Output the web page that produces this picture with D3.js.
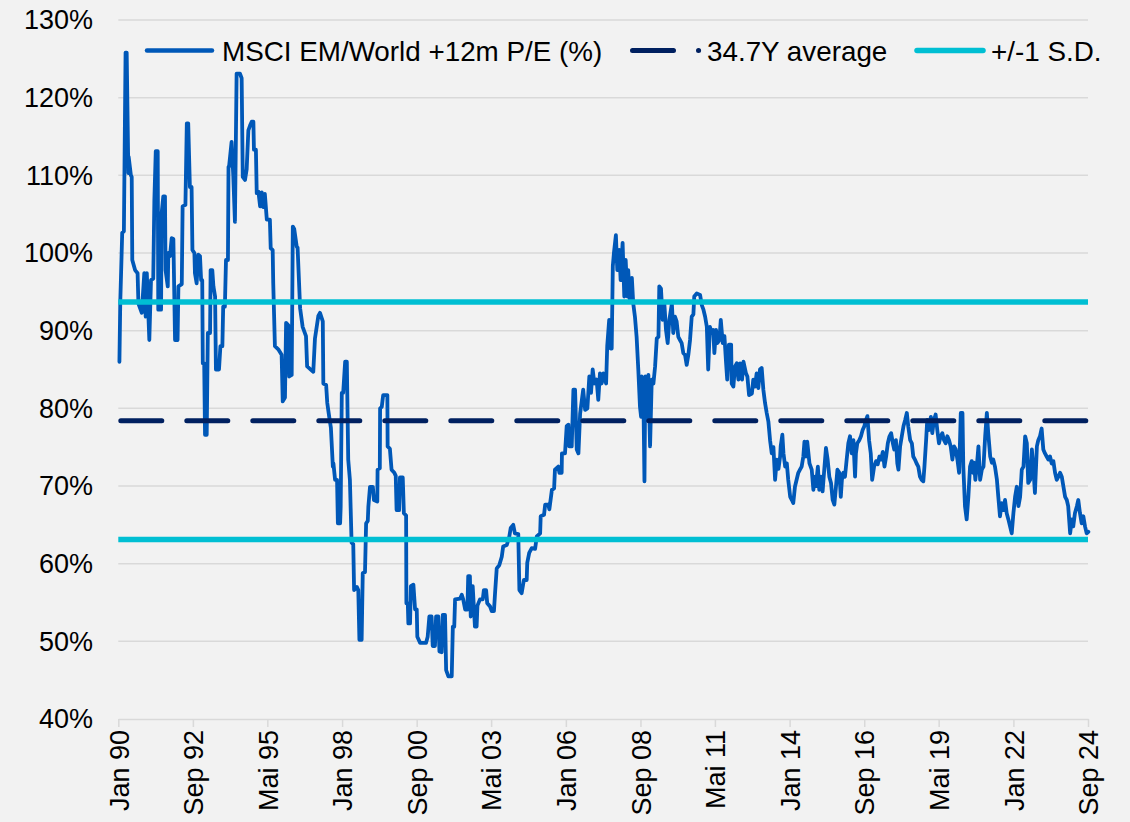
<!DOCTYPE html>
<html lang="de">
<head>
<meta charset="utf-8">
<title>MSCI EM/World +12m P/E</title>
<script src="https://d3js.org/d3.v7.min.js"></script>
<style>
  body { margin: 0; background: #f2f2f2; }
  svg { display: block; font-family: "Liberation Sans", Arial, sans-serif; }
</style>
</head>
<body>
<svg id="chart" width="1130" height="822"></svg>
<script>
// DATA ------------------------------------------------------------------
// dates as decimal years, values in % (EM P/E relative to World)
var dates = [
  1990.04,1990.07,1990.14,1990.20,1990.26,1990.30,1990.36,1990.37,1990.45,1990.48,1990.50,1990.60,1990.69,1990.72,1990.84,1990.93,1990.98,
  1991.02,1991.11,1991.17,1991.25,1991.29,1991.34,1991.41,1991.43,1991.53,1991.55,1991.61,1991.67,1991.69,1991.77,1991.79,1991.85,1991.91,1991.97,
  1992.03,1992.12,1992.15,1992.27,1992.30,1992.40,1992.45,1992.50,1992.56,1992.62,1992.65,1992.72,1992.74,1992.80,1992.86,1992.92,1992.96,
  1993.00,1993.02,1993.07,1993.10,1993.16,1993.20,1993.28,1993.30,1993.36,1993.40,1993.46,1993.49,1993.60,1993.65,1993.72,1993.75,1993.81,1993.85,1993.92,1993.94,1993.96,
  1994.05,1994.11,1994.17,1994.23,1994.35,1994.41,1994.45,1994.53,1994.59,1994.65,1994.71,1994.77,1994.83,1994.85,1994.92,1994.95,
  1995.01,1995.07,1995.13,1995.18,1995.24,1995.31,1995.42,1995.45,1995.52,1995.54,1995.60,1995.72,1995.84,1995.88,1995.96,
  1996.00,1996.08,1996.11,1996.20,1996.24,1996.29,1996.38,1996.41,1996.50,1996.59,1996.71,1996.75,1996.97,
  1997.03,1997.15,1997.21,1997.31,1997.33,1997.43,1997.47,1997.54,1997.60,1997.67,1997.69,1997.75,1997.82,1997.85,1997.93,1997.95,1997.99,
  1998.04,1998.11,1998.17,1998.22,1998.28,1998.34,1998.40,1998.43,1998.53,1998.58,1998.62,1998.70,1998.74,1998.82,1998.86,1998.92,1998.94,
  1999.00,1999.10,1999.14,1999.26,1999.27,1999.35,1999.36,1999.42,1999.47,1999.62,1999.63,1999.71,1999.77,1999.87,1999.92,1999.95,
  2000.04,2000.07,2000.17,2000.21,2000.29,2000.30,2000.35,2000.37,2000.43,2000.46,2000.55,2000.61,2000.67,2000.69,2000.79,
  2001.00,2001.06,2001.12,2001.20,2001.24,2001.32,2001.36,2001.44,2001.48,2001.56,2001.60,2001.68,2001.72,2001.80,2001.92,2001.96,
  2002.01,2002.04,2002.22,2002.28,2002.33,2002.40,2002.48,2002.51,2002.57,2002.60,2002.67,2002.75,2002.81,2002.84,2002.93,
  2003.03,2003.07,2003.15,2003.19,2003.29,2003.35,2003.43,2003.47,2003.53,2003.62,2003.71,2003.76,2003.89,2003.98,
  2004.03,2004.12,2004.18,2004.30,2004.34,2004.42,2004.50,2004.60,2004.62,2004.69,2004.78,2004.90,2004.96,
  2005.08,2005.10,2005.22,2005.26,2005.37,2005.41,2005.50,2005.58,2005.61,2005.73,2005.77,2005.85,2005.86,2005.97,
  2006.03,2006.09,2006.12,2006.21,2006.27,2006.33,2006.39,2006.45,2006.51,2006.57,2006.62,2006.69,2006.77,2006.84,2006.90,2006.96,
  2007.02,2007.10,2007.16,2007.22,2007.28,2007.34,2007.44,2007.48,2007.55,2007.60,2007.64,2007.68,2007.72,2007.79,2007.84,2007.91,2007.96,
  2008.03,2008.09,2008.14,2008.20,2008.23,2008.29,2008.36,2008.41,2008.47,2008.53,2008.59,2008.65,2008.69,2008.71,2008.77,2008.81,2008.84,2008.89,2008.95,
  2009.01,2009.07,2009.13,2009.19,2009.25,2009.31,2009.34,2009.40,2009.46,2009.52,2009.58,2009.64,2009.70,2009.79,2009.84,2009.90,2009.96,
  2010.02,2010.08,2010.14,2010.20,2010.26,2010.32,2010.38,2010.44,2010.50,2010.56,2010.59,2010.68,2010.80,2010.86,2010.92,2010.98,
  2011.04,2011.09,2011.15,2011.22,2011.27,2011.31,2011.37,2011.42,2011.49,2011.54,2011.61,2011.67,2011.73,2011.77,2011.83,2011.91,2011.93,2011.99,
  2012.05,2012.11,2012.17,2012.23,2012.30,2012.35,2012.44,2012.49,2012.55,2012.65,2012.70,2012.76,2012.82,2012.88,2012.94,
  2013.00,2013.06,2013.12,2013.18,2013.24,2013.30,2013.36,2013.42,2013.48,2013.54,2013.60,2013.66,2013.68,2013.74,2013.78,2013.84,2013.90,2013.95,
  2014.02,2014.08,2014.13,2014.19,2014.25,2014.31,2014.37,2014.43,2014.49,2014.53,2014.59,2014.63,2014.71,2014.79,2014.85,2014.91,2014.94,
  2015.01,2015.06,2015.12,2015.18,2015.23,2015.30,2015.36,2015.42,2015.48,2015.54,2015.60,2015.66,2015.71,2015.78,2015.83,2015.87,2015.92,2015.98,
  2016.04,2016.10,2016.16,2016.22,2016.28,2016.34,2016.37,2016.42,2016.49,2016.55,2016.61,2016.67,2016.73,2016.78,2016.84,2016.90,2016.95,
  2017.02,2017.09,2017.15,2017.21,2017.27,2017.33,2017.39,2017.45,2017.51,2017.57,2017.63,2017.69,2017.74,2017.80,2017.85,2017.89,2017.95,
  2018.01,2018.07,2018.13,2018.19,2018.24,2018.31,2018.37,2018.42,2018.48,2018.54,2018.60,2018.66,2018.72,2018.78,2018.82,2018.88,2018.92,2018.98,
  2019.05,2019.10,2019.16,2019.22,2019.28,2019.34,2019.40,2019.46,2019.52,2019.58,2019.64,2019.70,2019.76,2019.82,2019.88,2019.94,
  2020.00,2020.06,2020.12,2020.18,2020.21,2020.27,2020.33,2020.39,2020.45,2020.51,2020.56,2020.59,2020.64,2020.69,2020.75,2020.81,2020.87,2020.93,2020.99,
  2021.05,2021.10,2021.17,2021.23,2021.28,2021.34,2021.41,2021.46,2021.52,2021.58,2021.64,2021.70,2021.76,2021.82,2021.88,2021.94,
  2022.00,2022.06,2022.12,2022.18,2022.24,2022.30,2022.36,2022.42,2022.48,2022.53,2022.60,2022.66,2022.71,2022.77,2022.84,2022.89,2022.95,
  2023.01,2023.07,2023.13,2023.19,2023.25,2023.31,2023.37,2023.43,2023.49,2023.55,2023.61,2023.67,2023.73,2023.79,2023.85,2023.91,2023.96,
  2024.03,2024.09,2024.14,2024.20,2024.27,2024.32,2024.38,2024.44,2024.50,2024.56,2024.62,2024.68
];
var peRatio = [
  86.0,93.6,102.6,102.8,125.8,125.8,110.3,112.4,110.0,109.8,99.1,97.8,97.4,93.5,92.3,97.4,91.8,
  97.4,88.8,96.5,96.7,106.8,113.1,113.1,92.7,92.7,105.1,107.3,107.3,97.8,95.7,100.0,99.6,101.9,101.8,
  88.8,88.8,95.7,96.0,106.0,106.2,116.7,116.7,108.5,108.5,100.4,100.0,97.4,96.1,99.8,99.6,96.5,
  96.5,85.8,85.8,76.6,76.6,89.7,89.7,97.8,97.8,95.7,94.4,85.0,85.0,88.0,88.0,93.1,93.1,99.1,99.1,111.1,111.1,
  114.3,110.0,104.0,123.1,123.1,122.5,109.8,109.4,110.8,115.8,116.4,116.9,116.9,113.3,113.3,107.7,
  107.9,106.0,107.8,105.9,107.6,104.3,104.3,100.6,100.4,96.1,88.0,87.6,86.9,80.9,81.4,
  91.0,90.7,84.1,84.3,103.4,103.1,100.8,100.7,92.9,90.5,89.3,85.4,84.7,
  89.0,91.9,92.3,91.2,83.2,83.0,80.7,78.9,77.5,72.5,72.9,70.8,70.8,65.2,65.2,67.3,82.0,
  82.0,86.0,86.0,73.4,70.8,62.7,62.5,56.6,57.0,56.6,50.2,50.2,58.8,58.9,65.2,65.5,67.3,
  69.9,69.9,68.2,68.0,72.1,72.3,80.0,80.2,81.7,81.7,75.1,74.8,72.1,71.7,71.3,66.9,
  66.9,71.1,71.1,66.5,66.2,54.9,54.9,52.3,52.3,57.1,57.3,54.1,54.1,50.6,49.8,
  49.8,50.6,53.2,53.2,49.4,49.4,53.2,53.2,48.7,48.6,53.4,53.4,46.3,45.5,45.5,51.9,
  51.9,55.4,55.5,56.0,55.4,54.1,54.1,58.4,58.4,53.2,57.1,51.9,51.9,54.6,55.4,
  55.4,56.6,56.6,54.9,54.5,53.9,53.9,56.2,59.4,59.8,60.9,62.2,62.4,63.5,
  64.6,65.0,63.9,63.8,56.6,56.2,57.9,57.9,60.1,61.4,62.0,61.9,63.5,
  63.9,66.1,66.3,67.6,67.6,67.0,69.5,69.7,72.1,72.5,71.7,71.7,74.2,74.2,
  77.7,77.9,75.1,75.1,82.4,82.4,74.7,74.2,79.3,81.0,82.4,79.8,80.0,84.1,82.0,85.0,
  83.2,83.7,81.1,84.5,83.2,84.5,83.2,88.0,91.4,87.7,87.7,98.3,100.0,102.3,97.8,100.4,96.5,
  101.3,94.4,99.1,94.4,97.8,94.0,96.8,93.5,91.8,89.2,85.0,80.2,78.9,84.1,82.0,70.6,84.1,78.5,84.3,
  75.1,83.7,83.2,85.4,89.0,89.2,95.7,95.4,91.4,93.5,90.1,88.4,91.4,93.5,89.7,91.8,91.2,
  89.2,88.8,88.4,87.1,86.9,85.6,86.9,88.8,91.8,92.1,94.4,94.8,94.6,93.3,92.7,91.8,
  90.5,85.0,90.5,89.7,90.1,87.1,90.1,88.4,88.8,91.4,88.4,89.3,85.8,83.7,88.2,88.2,83.2,82.8,
  85.4,85.8,83.7,85.8,83.7,86.0,84.5,84.1,81.7,81.9,83.7,82.8,84.5,82.6,85.0,
  85.2,82.4,80.7,79.4,78.3,75.9,74.2,75.0,70.8,73.4,72.2,73.8,75.1,76.6,74.2,72.5,72.9,70.8,
  68.6,68.2,67.8,69.9,70.8,71.7,72.1,72.5,73.8,75.7,73.8,75.7,72.9,72.1,69.5,71.2,70.0,
  72.5,69.5,71.2,69.3,71.7,74.9,73.4,71.2,70.4,68.2,67.6,70.0,72.1,71.7,68.6,70.8,71.7,71.2,
  73.4,75.5,76.4,74.2,75.9,71.2,74.2,75.5,75.9,76.4,77.2,77.7,78.5,79.0,75.9,74.2,70.8,
  72.5,73.2,72.8,73.8,73.4,74.4,72.5,73.8,75.5,76.4,76.8,75.5,74.7,75.9,72.9,72.1,75.1,
  76.4,77.7,78.5,79.4,77.7,75.9,75.5,73.8,73.4,72.9,72.5,71.2,70.8,70.6,72.5,75.9,78.5,77.2,
  78.9,76.8,78.5,79.2,77.2,75.5,76.4,76.8,75.9,75.5,76.4,75.9,75.1,73.4,75.1,74.7,
  73.4,71.7,79.4,79.4,72.5,67.4,65.7,68.6,72.5,73.2,71.7,73.0,70.8,72.5,75.1,70.8,72.1,72.5,76.4,
  79.4,76.8,73.8,73.0,73.4,72.5,70.8,68.6,66.1,67.8,66.9,68.2,66.5,65.7,64.8,63.9,
  66.5,68.6,69.9,67.4,68.6,72.1,72.5,76.4,75.5,70.4,70.8,74.7,72.5,69.1,75.1,75.9,76.4,
  77.4,74.7,74.2,73.8,73.4,73.8,72.9,73.2,71.7,70.8,71.2,71.7,71.2,69.9,68.6,68.2,67.4,
  63.9,65.7,64.8,66.5,67.4,68.2,66.5,65.2,66.1,64.8,63.9,64.1
];
var averageLevel = 78.4;        // 34.7Y average
var sdLevels = [63.1, 93.7];    // +/-1 S.D.
var yTicks = [40, 50, 60, 70, 80, 90, 100, 110, 120, 130];
var xTickLabels = ["Jan 90","Sep 92","Mai 95","Jan 98","Sep 00","Mai 03","Jan 06",
                   "Sep 08","Mai 11","Jan 14","Sep 16","Mai 19","Jan 22","Sep 24"];
var legendNames = ["MSCI EM/World +12m P/E (%)", "34.7Y average", "+/-1 S.D."];

// STYLE -----------------------------------------------------------------
var BLUE = "#0058b8", NAVY = "#002060", CYAN = "#00bfd3", GRID = "#d9d9d9";
var FONT = 27;
var LEGEND_FONT = 27.8;
var DASH = "41,25";

var svg = d3.select("#chart");
//plot box (note: "top" is taken by window.top, so use plot* names)
var plotLeft = 118.3, plotRight = 1088, plotTop = 20, plotBottom = 719;

//decimal year -> Date
function toDate(dy) {
  var yr = Math.floor(dy);
  var a = new Date(yr, 0, 1), b = new Date(yr + 1, 0, 1);
  return new Date(+a + (dy - yr) * (b - a));
}
var monthIndex = { Jan: 0, Mai: 4, Sep: 8 };
function labelDate(s) {
  var p = s.split(" "), yy = +p[1];
  return new Date(yy >= 50 ? 1900 + yy : 2000 + yy, monthIndex[p[0]], 1);
}

var series = dates.map(function (d, i) { return { date: toDate(d), value: peRatio[i] }; });
var tickDates = xTickLabels.map(labelDate);

var x = d3.scaleTime()
  .domain([tickDates[0], tickDates[tickDates.length - 1]])
  .range([plotLeft, plotRight]);
var y = d3.scaleLinear().domain([40, 130]).range([plotBottom, plotTop]);

//gridlines
svg.append("g").selectAll("line")
  .data(yTicks.filter(function (d) { return d > 40; }))
  .join("line")
  .attr("x1", plotLeft).attr("x2", plotRight)
  .attr("y1", function (d) { return y(d); }).attr("y2", function (d) { return y(d); })
  .attr("stroke", GRID).attr("stroke-width", 1.5);

//y labels
svg.append("g").selectAll("text")
  .data(yTicks)
  .join("text")
  .attr("x", 93).attr("y", function (d) { return y(d); })
  .attr("dy", "0.35em").attr("text-anchor", "end")
  .attr("font-size", FONT).attr("fill", "#000")
  .text(function (d) { return d + "%"; });

//x axis
var xAxis = svg.append("g")
  .attr("transform", "translate(0," + plotBottom + ")")
  .call(d3.axisBottom(x)
    .tickValues(tickDates)
    .tickFormat(function (d, i) { return xTickLabels[i]; })
    .tickSize(8).tickSizeOuter(0));
xAxis.select(".domain").attr("stroke", GRID).attr("stroke-width", 1.5);
xAxis.selectAll(".tick line").attr("stroke", GRID).attr("stroke-width", 1.5);
xAxis.selectAll(".tick text")
  .attr("transform", "rotate(-90)")
  .attr("text-anchor", "end")
  .attr("x", -11).attr("y", 0).attr("dy", "0.36em")
  .attr("font-size", FONT).attr("font-family", "Liberation Sans, Arial, sans-serif")
  .attr("fill", "#000");

//main series
var line = d3.line()
  .x(function (d) { return x(d.date); })
  .y(function (d) { return y(d.value); });

svg.append("path")
  .datum(series)
  .attr("d", line)
  .attr("fill", "none")
  .attr("stroke", BLUE).attr("stroke-width", 3.8)
  .attr("stroke-linejoin", "round").attr("stroke-linecap", "round");

//average + SD lines
var ends = x.domain();
function flat(v) { return ends.map(function (d) { return { date: d, value: v }; }); }

svg.append("path")
  .datum(flat(averageLevel))
  .attr("d", line)
  .attr("fill", "none")
  .attr("stroke", NAVY).attr("stroke-width", 5)
  .attr("stroke-dasharray", DASH).attr("stroke-linecap", "round")
  .attr("transform", "translate(2.5,0)");

sdLevels.forEach(function (v) {
  svg.append("path")
    .datum(flat(v))
    .attr("d", line)
    .attr("fill", "none")
    .attr("stroke", CYAN).attr("stroke-width", 5.5);
});

//legend
var legendY = 50.5;
var legend = svg.append("g");
legend.append("line")
  .attr("x1", 147).attr("x2", 212).attr("y1", legendY).attr("y2", legendY)
  .attr("stroke", BLUE).attr("stroke-width", 4.5).attr("stroke-linecap", "round");
legend.append("line")
  .attr("x1", 632.5).attr("x2", 698.6).attr("y1", legendY).attr("y2", legendY)
  .attr("stroke", NAVY).attr("stroke-width", 5)
  .attr("stroke-dasharray", DASH).attr("stroke-linecap", "round");
legend.append("line")
  .attr("x1", 917).attr("x2", 983).attr("y1", legendY).attr("y2", legendY)
  .attr("stroke", CYAN).attr("stroke-width", 5.5).attr("stroke-linecap", "round");

var legendX = [222, 707, 991];
legend.selectAll("text")
  .data(legendNames)
  .join("text")
  .attr("x", function (d, i) { return legendX[i]; })
  .attr("y", legendY).attr("dy", "0.36em")
  .attr("font-size", LEGEND_FONT).attr("fill", "#000")
  .text(function (d) { return d; });
</script>
</body>
</html>
